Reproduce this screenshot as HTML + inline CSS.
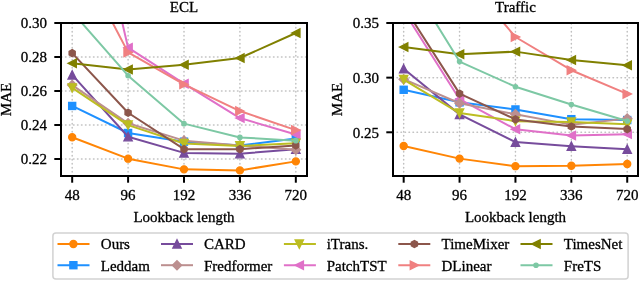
<!DOCTYPE html>
<html><head><meta charset="utf-8"><style>html,body{margin:0;padding:0;background:#fff;}body{width:640px;height:281px;overflow:hidden;}</style></head>
<body><svg width="640" height="281" viewBox="0 0 640 281" style="display:block;will-change:transform">
<rect width="640" height="281" fill="#fff"/>
<defs><clipPath id="clip0"><rect x="61.0" y="23.0" width="246.0" height="153.0"/></clipPath></defs>
<g stroke="#c0c0c0" stroke-width="1.5" stroke-dasharray="0.5 3.5" stroke-dashoffset="-0.5" stroke-linecap="round" fill="none"><line x1="72.18" y1="176.6" x2="72.18" y2="23.0"/><line x1="128.09" y1="176.6" x2="128.09" y2="23.0"/><line x1="184.00" y1="176.6" x2="184.00" y2="23.0"/><line x1="239.91" y1="176.6" x2="239.91" y2="23.0"/><line x1="295.82" y1="176.6" x2="295.82" y2="23.0"/><line x1="61.0" y1="159.00" x2="307.0" y2="159.00"/><line x1="61.0" y1="125.00" x2="307.0" y2="125.00"/><line x1="61.0" y1="91.00" x2="307.0" y2="91.00"/><line x1="61.0" y1="57.00" x2="307.0" y2="57.00"/><line x1="61.0" y1="23.00" x2="307.0" y2="23.00"/></g>
<g clip-path="url(#clip0)"><polyline points="72.18,137.24 128.09,158.66 184.00,169.37 239.91,170.39 295.82,161.38" fill="none" stroke="#ff8505" stroke-width="2.0" stroke-linejoin="round" stroke-linecap="butt"/><circle cx="72.18" cy="137.24" r="3.50" fill="#ff8505" stroke="#ff8505" stroke-width="1.4" stroke-linejoin="miter"/><circle cx="128.09" cy="158.66" r="3.50" fill="#ff8505" stroke="#ff8505" stroke-width="1.4" stroke-linejoin="miter"/><circle cx="184.00" cy="169.37" r="3.50" fill="#ff8505" stroke="#ff8505" stroke-width="1.4" stroke-linejoin="miter"/><circle cx="239.91" cy="170.39" r="3.50" fill="#ff8505" stroke="#ff8505" stroke-width="1.4" stroke-linejoin="miter"/><circle cx="295.82" cy="161.38" r="3.50" fill="#ff8505" stroke="#ff8505" stroke-width="1.4" stroke-linejoin="miter"/><polyline points="72.18,105.96 128.09,132.99 184.00,141.66 239.91,145.57 295.82,138.43" fill="none" stroke="#1e90ff" stroke-width="2.0" stroke-linejoin="round" stroke-linecap="butt"/><rect x="68.68" y="102.46" width="7.00" height="7.00" fill="#1e90ff" stroke="#1e90ff" stroke-width="1.4" stroke-linejoin="miter"/><rect x="124.59" y="129.49" width="7.00" height="7.00" fill="#1e90ff" stroke="#1e90ff" stroke-width="1.4" stroke-linejoin="miter"/><rect x="180.50" y="138.16" width="7.00" height="7.00" fill="#1e90ff" stroke="#1e90ff" stroke-width="1.4" stroke-linejoin="miter"/><rect x="236.41" y="142.07" width="7.00" height="7.00" fill="#1e90ff" stroke="#1e90ff" stroke-width="1.4" stroke-linejoin="miter"/><rect x="292.32" y="134.93" width="7.00" height="7.00" fill="#1e90ff" stroke="#1e90ff" stroke-width="1.4" stroke-linejoin="miter"/><polyline points="72.18,74.85 128.09,136.73 184.00,152.88 239.91,153.73 295.82,149.14" fill="none" stroke="#774c9c" stroke-width="2.0" stroke-linejoin="round" stroke-linecap="butt"/><path d="M72.18,70.75L76.28,78.95L68.08,78.95Z" fill="#774c9c" stroke="#774c9c" stroke-width="1.4" stroke-linejoin="miter"/><path d="M128.09,132.63L132.19,140.83L123.99,140.83Z" fill="#774c9c" stroke="#774c9c" stroke-width="1.4" stroke-linejoin="miter"/><path d="M184.00,148.78L188.10,156.98L179.90,156.98Z" fill="#774c9c" stroke="#774c9c" stroke-width="1.4" stroke-linejoin="miter"/><path d="M239.91,149.63L244.01,157.83L235.81,157.83Z" fill="#774c9c" stroke="#774c9c" stroke-width="1.4" stroke-linejoin="miter"/><path d="M295.82,145.04L299.92,153.24L291.72,153.24Z" fill="#774c9c" stroke="#774c9c" stroke-width="1.4" stroke-linejoin="miter"/><polyline points="72.18,-192.05 128.09,47.65 184.00,83.69 239.91,118.03 295.82,134.52" fill="none" stroke="#e070c8" stroke-width="2.0" stroke-linejoin="round" stroke-linecap="butt"/><path d="M68.08,-192.05L76.28,-196.15L76.28,-187.95Z" fill="#e070c8" stroke="#e070c8" stroke-width="1.4" stroke-linejoin="miter"/><path d="M123.99,47.65L132.19,43.55L132.19,51.75Z" fill="#e070c8" stroke="#e070c8" stroke-width="1.4" stroke-linejoin="miter"/><path d="M179.90,83.69L188.10,79.59L188.10,87.79Z" fill="#e070c8" stroke="#e070c8" stroke-width="1.4" stroke-linejoin="miter"/><path d="M235.81,118.03L244.01,113.93L244.01,122.13Z" fill="#e070c8" stroke="#e070c8" stroke-width="1.4" stroke-linejoin="miter"/><path d="M291.72,134.52L299.92,130.42L299.92,138.62Z" fill="#e070c8" stroke="#e070c8" stroke-width="1.4" stroke-linejoin="miter"/><polyline points="72.18,85.05 128.09,123.30 184.00,140.64 239.91,145.40 295.82,149.82" fill="none" stroke="#bc8f8f" stroke-width="2.0" stroke-linejoin="round" stroke-linecap="butt"/><path d="M72.18,80.50L76.74,85.05L72.18,89.60L67.63,85.05Z" fill="#bc8f8f" stroke="#bc8f8f" stroke-width="1.4" stroke-linejoin="miter"/><path d="M128.09,118.75L132.64,123.30L128.09,127.85L123.54,123.30Z" fill="#bc8f8f" stroke="#bc8f8f" stroke-width="1.4" stroke-linejoin="miter"/><path d="M184.00,136.09L188.55,140.64L184.00,145.19L179.45,140.64Z" fill="#bc8f8f" stroke="#bc8f8f" stroke-width="1.4" stroke-linejoin="miter"/><path d="M239.91,140.85L244.46,145.40L239.91,149.95L235.36,145.40Z" fill="#bc8f8f" stroke="#bc8f8f" stroke-width="1.4" stroke-linejoin="miter"/><path d="M295.82,145.27L300.37,149.82L295.82,154.37L291.26,149.82Z" fill="#bc8f8f" stroke="#bc8f8f" stroke-width="1.4" stroke-linejoin="miter"/><polyline points="72.18,87.94 128.09,125.17 184.00,143.53 239.91,145.91 295.82,143.36" fill="none" stroke="#bcbd22" stroke-width="2.0" stroke-linejoin="round" stroke-linecap="butt"/><path d="M72.18,92.04L76.28,83.84L68.08,83.84Z" fill="#bcbd22" stroke="#bcbd22" stroke-width="1.4" stroke-linejoin="miter"/><path d="M128.09,129.27L132.19,121.07L123.99,121.07Z" fill="#bcbd22" stroke="#bcbd22" stroke-width="1.4" stroke-linejoin="miter"/><path d="M184.00,147.63L188.10,139.43L179.90,139.43Z" fill="#bcbd22" stroke="#bcbd22" stroke-width="1.4" stroke-linejoin="miter"/><path d="M239.91,150.01L244.01,141.81L235.81,141.81Z" fill="#bcbd22" stroke="#bcbd22" stroke-width="1.4" stroke-linejoin="miter"/><path d="M295.82,147.46L299.92,139.26L291.72,139.26Z" fill="#bcbd22" stroke="#bcbd22" stroke-width="1.4" stroke-linejoin="miter"/><polyline points="72.18,53.09 128.09,112.76 184.00,149.14 239.91,149.14 295.82,145.40" fill="none" stroke="#8c564b" stroke-width="2.0" stroke-linejoin="round" stroke-linecap="butt"/><path d="M72.18,49.59L69.15,51.34L69.15,54.84L72.18,56.59L75.21,54.84L75.21,51.34Z" fill="#8c564b" stroke="#8c564b" stroke-width="1.4" stroke-linejoin="miter"/><path d="M128.09,109.26L125.06,111.01L125.06,114.51L128.09,116.26L131.12,114.51L131.12,111.01Z" fill="#8c564b" stroke="#8c564b" stroke-width="1.4" stroke-linejoin="miter"/><path d="M184.00,145.64L180.97,147.39L180.97,150.89L184.00,152.64L187.03,150.89L187.03,147.39Z" fill="#8c564b" stroke="#8c564b" stroke-width="1.4" stroke-linejoin="miter"/><path d="M239.91,145.64L236.88,147.39L236.88,150.89L239.91,152.64L242.94,150.89L242.94,147.39Z" fill="#8c564b" stroke="#8c564b" stroke-width="1.4" stroke-linejoin="miter"/><path d="M295.82,141.90L292.79,143.65L292.79,147.15L295.82,148.90L298.85,147.15L298.85,143.65Z" fill="#8c564b" stroke="#8c564b" stroke-width="1.4" stroke-linejoin="miter"/><polyline points="72.18,-54.52 128.09,52.41 184.00,84.37 239.91,111.06 295.82,130.10" fill="none" stroke="#f08080" stroke-width="2.0" stroke-linejoin="round" stroke-linecap="butt"/><path d="M76.28,-54.52L68.08,-58.62L68.08,-50.42Z" fill="#f08080" stroke="#f08080" stroke-width="1.4" stroke-linejoin="miter"/><path d="M132.19,52.41L123.99,48.31L123.99,56.51Z" fill="#f08080" stroke="#f08080" stroke-width="1.4" stroke-linejoin="miter"/><path d="M188.10,84.37L179.90,80.27L179.90,88.47Z" fill="#f08080" stroke="#f08080" stroke-width="1.4" stroke-linejoin="miter"/><path d="M244.01,111.06L235.81,106.96L235.81,115.16Z" fill="#f08080" stroke="#f08080" stroke-width="1.4" stroke-linejoin="miter"/><path d="M299.92,130.10L291.72,126.00L291.72,134.20Z" fill="#f08080" stroke="#f08080" stroke-width="1.4" stroke-linejoin="miter"/><polyline points="72.18,63.29 128.09,69.41 184.00,64.82 239.91,58.02 295.82,33.03" fill="none" stroke="#808000" stroke-width="2.0" stroke-linejoin="round" stroke-linecap="butt"/><path d="M68.08,63.29L76.28,59.19L76.28,67.39Z" fill="#808000" stroke="#808000" stroke-width="1.4" stroke-linejoin="miter"/><path d="M123.99,69.41L132.19,65.31L132.19,73.51Z" fill="#808000" stroke="#808000" stroke-width="1.4" stroke-linejoin="miter"/><path d="M179.90,64.82L188.10,60.72L188.10,68.92Z" fill="#808000" stroke="#808000" stroke-width="1.4" stroke-linejoin="miter"/><path d="M235.81,58.02L244.01,53.92L244.01,62.12Z" fill="#808000" stroke="#808000" stroke-width="1.4" stroke-linejoin="miter"/><path d="M291.72,33.03L299.92,28.93L299.92,37.13Z" fill="#808000" stroke="#808000" stroke-width="1.4" stroke-linejoin="miter"/><polyline points="72.18,11.95 128.09,75.70 184.00,123.64 239.91,137.41 295.82,140.64" fill="none" stroke="#7dc8a4" stroke-width="2.0" stroke-linejoin="round" stroke-linecap="butt"/><circle cx="72.18" cy="11.95" r="2.10" fill="#7dc8a4" stroke="#7dc8a4" stroke-width="1.4" stroke-linejoin="miter"/><circle cx="128.09" cy="75.70" r="2.10" fill="#7dc8a4" stroke="#7dc8a4" stroke-width="1.4" stroke-linejoin="miter"/><circle cx="184.00" cy="123.64" r="2.10" fill="#7dc8a4" stroke="#7dc8a4" stroke-width="1.4" stroke-linejoin="miter"/><circle cx="239.91" cy="137.41" r="2.10" fill="#7dc8a4" stroke="#7dc8a4" stroke-width="1.4" stroke-linejoin="miter"/><circle cx="295.82" cy="140.64" r="2.10" fill="#7dc8a4" stroke="#7dc8a4" stroke-width="1.4" stroke-linejoin="miter"/></g>
<rect x="61.0" y="23.0" width="246.00" height="153.0" fill="none" stroke="#000" stroke-width="2"/>
<g stroke="#000" stroke-width="2"><line x1="72.18" y1="176.0" x2="72.18" y2="182.7"/><line x1="128.09" y1="176.0" x2="128.09" y2="182.7"/><line x1="184.00" y1="176.0" x2="184.00" y2="182.7"/><line x1="239.91" y1="176.0" x2="239.91" y2="182.7"/><line x1="295.82" y1="176.0" x2="295.82" y2="182.7"/><line x1="61.0" y1="159.00" x2="54.3" y2="159.00"/><line x1="61.0" y1="125.00" x2="54.3" y2="125.00"/><line x1="61.0" y1="91.00" x2="54.3" y2="91.00"/><line x1="61.0" y1="57.00" x2="54.3" y2="57.00"/><line x1="61.0" y1="23.00" x2="54.3" y2="23.00"/></g>
<g font-family='"Liberation Serif", serif' font-size="15" fill="#000" stroke="#000" stroke-width="0.3"><text x="72.18" y="200.4" text-anchor="middle">48</text><text x="128.09" y="200.4" text-anchor="middle">96</text><text x="184.00" y="200.4" text-anchor="middle">192</text><text x="239.91" y="200.4" text-anchor="middle">336</text><text x="295.82" y="200.4" text-anchor="middle">720</text><text x="47.00" y="164.30" text-anchor="end">0.22</text><text x="47.00" y="130.30" text-anchor="end">0.24</text><text x="47.00" y="96.30" text-anchor="end">0.26</text><text x="47.00" y="62.30" text-anchor="end">0.28</text><text x="47.00" y="28.30" text-anchor="end">0.30</text><text x="184.00" y="11.7" text-anchor="middle">ECL</text><text x="184.00" y="221.8" text-anchor="middle">Lookback length</text><text transform="translate(11.0,99.50) rotate(-90)" text-anchor="middle">MAE</text></g>
<defs><clipPath id="clip1"><rect x="393.0" y="23.0" width="245.0" height="153.0"/></clipPath></defs>
<g stroke="#c0c0c0" stroke-width="1.5" stroke-dasharray="0.5 3.5" stroke-dashoffset="-0.5" stroke-linecap="round" fill="none"><line x1="403.68" y1="176.6" x2="403.68" y2="23.0"/><line x1="459.56" y1="176.6" x2="459.56" y2="23.0"/><line x1="515.45" y1="176.6" x2="515.45" y2="23.0"/><line x1="571.34" y1="176.6" x2="571.34" y2="23.0"/><line x1="627.22" y1="176.6" x2="627.22" y2="23.0"/><line x1="392.5" y1="132.29" x2="638.0" y2="132.29"/><line x1="392.5" y1="77.64" x2="638.0" y2="77.64"/><line x1="392.5" y1="23.00" x2="638.0" y2="23.00"/></g>
<g clip-path="url(#clip1)"><polyline points="403.68,145.95 459.56,158.62 515.45,166.16 571.34,165.73 627.22,163.98" fill="none" stroke="#ff8505" stroke-width="2.0" stroke-linejoin="round" stroke-linecap="butt"/><circle cx="403.68" cy="145.95" r="3.50" fill="#ff8505" stroke="#ff8505" stroke-width="1.4" stroke-linejoin="miter"/><circle cx="459.56" cy="158.62" r="3.50" fill="#ff8505" stroke="#ff8505" stroke-width="1.4" stroke-linejoin="miter"/><circle cx="515.45" cy="166.16" r="3.50" fill="#ff8505" stroke="#ff8505" stroke-width="1.4" stroke-linejoin="miter"/><circle cx="571.34" cy="165.73" r="3.50" fill="#ff8505" stroke="#ff8505" stroke-width="1.4" stroke-linejoin="miter"/><circle cx="627.22" cy="163.98" r="3.50" fill="#ff8505" stroke="#ff8505" stroke-width="1.4" stroke-linejoin="miter"/><polyline points="403.68,89.77 459.56,102.34 515.45,109.45 571.34,119.17 627.22,120.05" fill="none" stroke="#1e90ff" stroke-width="2.0" stroke-linejoin="round" stroke-linecap="butt"/><rect x="400.18" y="86.27" width="7.00" height="7.00" fill="#1e90ff" stroke="#1e90ff" stroke-width="1.4" stroke-linejoin="miter"/><rect x="456.06" y="98.84" width="7.00" height="7.00" fill="#1e90ff" stroke="#1e90ff" stroke-width="1.4" stroke-linejoin="miter"/><rect x="511.95" y="105.95" width="7.00" height="7.00" fill="#1e90ff" stroke="#1e90ff" stroke-width="1.4" stroke-linejoin="miter"/><rect x="567.84" y="115.67" width="7.00" height="7.00" fill="#1e90ff" stroke="#1e90ff" stroke-width="1.4" stroke-linejoin="miter"/><rect x="623.72" y="116.55" width="7.00" height="7.00" fill="#1e90ff" stroke="#1e90ff" stroke-width="1.4" stroke-linejoin="miter"/><polyline points="403.68,68.79 459.56,114.36 515.45,142.12 571.34,146.16 627.22,149.23" fill="none" stroke="#774c9c" stroke-width="2.0" stroke-linejoin="round" stroke-linecap="butt"/><path d="M403.68,64.69L407.78,72.89L399.58,72.89Z" fill="#774c9c" stroke="#774c9c" stroke-width="1.4" stroke-linejoin="miter"/><path d="M459.56,110.26L463.66,118.46L455.46,118.46Z" fill="#774c9c" stroke="#774c9c" stroke-width="1.4" stroke-linejoin="miter"/><path d="M515.45,138.02L519.55,146.22L511.35,146.22Z" fill="#774c9c" stroke="#774c9c" stroke-width="1.4" stroke-linejoin="miter"/><path d="M571.34,142.06L575.44,150.26L567.24,150.26Z" fill="#774c9c" stroke="#774c9c" stroke-width="1.4" stroke-linejoin="miter"/><path d="M627.22,145.13L631.32,153.33L623.12,153.33Z" fill="#774c9c" stroke="#774c9c" stroke-width="1.4" stroke-linejoin="miter"/><polyline points="403.68,10.98 459.56,99.17 515.45,129.23 571.34,135.56 627.22,134.14" fill="none" stroke="#e070c8" stroke-width="2.0" stroke-linejoin="round" stroke-linecap="butt"/><path d="M399.58,10.98L407.78,6.88L407.78,15.08Z" fill="#e070c8" stroke="#e070c8" stroke-width="1.4" stroke-linejoin="miter"/><path d="M455.46,99.17L463.66,95.07L463.66,103.27Z" fill="#e070c8" stroke="#e070c8" stroke-width="1.4" stroke-linejoin="miter"/><path d="M511.35,129.23L519.55,125.13L519.55,133.33Z" fill="#e070c8" stroke="#e070c8" stroke-width="1.4" stroke-linejoin="miter"/><path d="M567.24,135.56L575.44,131.46L575.44,139.66Z" fill="#e070c8" stroke="#e070c8" stroke-width="1.4" stroke-linejoin="miter"/><path d="M623.12,134.14L631.32,130.04L631.32,138.24Z" fill="#e070c8" stroke="#e070c8" stroke-width="1.4" stroke-linejoin="miter"/><polyline points="403.68,79.17 459.56,103.22 515.45,114.25 571.34,124.64 627.22,118.62" fill="none" stroke="#bc8f8f" stroke-width="2.0" stroke-linejoin="round" stroke-linecap="butt"/><path d="M403.68,74.62L408.23,79.17L403.68,83.73L399.12,79.17Z" fill="#bc8f8f" stroke="#bc8f8f" stroke-width="1.4" stroke-linejoin="miter"/><path d="M459.56,98.66L464.12,103.22L459.56,107.77L455.01,103.22Z" fill="#bc8f8f" stroke="#bc8f8f" stroke-width="1.4" stroke-linejoin="miter"/><path d="M515.45,109.70L520.00,114.25L515.45,118.81L510.90,114.25Z" fill="#bc8f8f" stroke="#bc8f8f" stroke-width="1.4" stroke-linejoin="miter"/><path d="M571.34,120.08L575.89,124.64L571.34,129.19L566.78,124.64Z" fill="#bc8f8f" stroke="#bc8f8f" stroke-width="1.4" stroke-linejoin="miter"/><path d="M627.22,114.07L631.78,118.62L627.22,123.18L622.67,118.62Z" fill="#bc8f8f" stroke="#bc8f8f" stroke-width="1.4" stroke-linejoin="miter"/><polyline points="403.68,79.61 459.56,113.05 515.45,121.14 571.34,122.12 627.22,124.31" fill="none" stroke="#bcbd22" stroke-width="2.0" stroke-linejoin="round" stroke-linecap="butt"/><path d="M403.68,83.71L407.78,75.51L399.58,75.51Z" fill="#bcbd22" stroke="#bcbd22" stroke-width="1.4" stroke-linejoin="miter"/><path d="M459.56,117.15L463.66,108.95L455.46,108.95Z" fill="#bcbd22" stroke="#bcbd22" stroke-width="1.4" stroke-linejoin="miter"/><path d="M515.45,125.24L519.55,117.04L511.35,117.04Z" fill="#bcbd22" stroke="#bcbd22" stroke-width="1.4" stroke-linejoin="miter"/><path d="M571.34,126.22L575.44,118.02L567.24,118.02Z" fill="#bcbd22" stroke="#bcbd22" stroke-width="1.4" stroke-linejoin="miter"/><path d="M627.22,128.41L631.32,120.21L623.12,120.21Z" fill="#bcbd22" stroke="#bcbd22" stroke-width="1.4" stroke-linejoin="miter"/><polyline points="403.68,6.28 459.56,93.60 515.45,119.39 571.34,126.49 627.22,129.12" fill="none" stroke="#8c564b" stroke-width="2.0" stroke-linejoin="round" stroke-linecap="butt"/><path d="M403.68,2.78L400.65,4.53L400.65,8.03L403.68,9.78L406.71,8.03L406.71,4.53Z" fill="#8c564b" stroke="#8c564b" stroke-width="1.4" stroke-linejoin="miter"/><path d="M459.56,90.10L456.53,91.85L456.53,95.35L459.56,97.10L462.59,95.35L462.59,91.85Z" fill="#8c564b" stroke="#8c564b" stroke-width="1.4" stroke-linejoin="miter"/><path d="M515.45,115.89L512.42,117.64L512.42,121.14L515.45,122.89L518.48,121.14L518.48,117.64Z" fill="#8c564b" stroke="#8c564b" stroke-width="1.4" stroke-linejoin="miter"/><path d="M571.34,122.99L568.31,124.74L568.31,128.24L571.34,129.99L574.37,128.24L574.37,124.74Z" fill="#8c564b" stroke="#8c564b" stroke-width="1.4" stroke-linejoin="miter"/><path d="M627.22,125.62L624.19,127.37L624.19,130.87L627.22,132.62L630.25,130.87L630.25,127.37Z" fill="#8c564b" stroke="#8c564b" stroke-width="1.4" stroke-linejoin="miter"/><polyline points="403.68,-86.29 459.56,-29.13 515.45,36.99 571.34,70.21 627.22,93.93" fill="none" stroke="#f08080" stroke-width="2.0" stroke-linejoin="round" stroke-linecap="butt"/><path d="M407.78,-86.29L399.58,-90.39L399.58,-82.19Z" fill="#f08080" stroke="#f08080" stroke-width="1.4" stroke-linejoin="miter"/><path d="M463.66,-29.13L455.46,-33.23L455.46,-25.03Z" fill="#f08080" stroke="#f08080" stroke-width="1.4" stroke-linejoin="miter"/><path d="M519.55,36.99L511.35,32.89L511.35,41.09Z" fill="#f08080" stroke="#f08080" stroke-width="1.4" stroke-linejoin="miter"/><path d="M575.44,70.21L567.24,66.11L567.24,74.31Z" fill="#f08080" stroke="#f08080" stroke-width="1.4" stroke-linejoin="miter"/><path d="M631.32,93.93L623.12,89.83L623.12,98.03Z" fill="#f08080" stroke="#f08080" stroke-width="1.4" stroke-linejoin="miter"/><polyline points="403.68,47.04 459.56,54.15 515.45,51.63 571.34,60.05 627.22,65.29" fill="none" stroke="#808000" stroke-width="2.0" stroke-linejoin="round" stroke-linecap="butt"/><path d="M399.58,47.04L407.78,42.94L407.78,51.14Z" fill="#808000" stroke="#808000" stroke-width="1.4" stroke-linejoin="miter"/><path d="M455.46,54.15L463.66,50.05L463.66,58.25Z" fill="#808000" stroke="#808000" stroke-width="1.4" stroke-linejoin="miter"/><path d="M511.35,51.63L519.55,47.53L519.55,55.73Z" fill="#808000" stroke="#808000" stroke-width="1.4" stroke-linejoin="miter"/><path d="M567.24,60.05L575.44,55.95L575.44,64.15Z" fill="#808000" stroke="#808000" stroke-width="1.4" stroke-linejoin="miter"/><path d="M623.12,65.29L631.32,61.19L631.32,69.39Z" fill="#808000" stroke="#808000" stroke-width="1.4" stroke-linejoin="miter"/><polyline points="403.68,-28.91 459.56,61.58 515.45,86.71 571.34,104.53 627.22,121.03" fill="none" stroke="#7dc8a4" stroke-width="2.0" stroke-linejoin="round" stroke-linecap="butt"/><circle cx="403.68" cy="-28.91" r="2.10" fill="#7dc8a4" stroke="#7dc8a4" stroke-width="1.4" stroke-linejoin="miter"/><circle cx="459.56" cy="61.58" r="2.10" fill="#7dc8a4" stroke="#7dc8a4" stroke-width="1.4" stroke-linejoin="miter"/><circle cx="515.45" cy="86.71" r="2.10" fill="#7dc8a4" stroke="#7dc8a4" stroke-width="1.4" stroke-linejoin="miter"/><circle cx="571.34" cy="104.53" r="2.10" fill="#7dc8a4" stroke="#7dc8a4" stroke-width="1.4" stroke-linejoin="miter"/><circle cx="627.22" cy="121.03" r="2.10" fill="#7dc8a4" stroke="#7dc8a4" stroke-width="1.4" stroke-linejoin="miter"/></g>
<rect x="393.0" y="23.0" width="245.00" height="153.0" fill="none" stroke="#000" stroke-width="2"/>
<g stroke="#000" stroke-width="2"><line x1="403.68" y1="176.0" x2="403.68" y2="182.7"/><line x1="459.56" y1="176.0" x2="459.56" y2="182.7"/><line x1="515.45" y1="176.0" x2="515.45" y2="182.7"/><line x1="571.34" y1="176.0" x2="571.34" y2="182.7"/><line x1="627.22" y1="176.0" x2="627.22" y2="182.7"/><line x1="393.0" y1="132.29" x2="386.3" y2="132.29"/><line x1="393.0" y1="77.64" x2="386.3" y2="77.64"/><line x1="393.0" y1="23.00" x2="386.3" y2="23.00"/></g>
<g font-family='"Liberation Serif", serif' font-size="15" fill="#000" stroke="#000" stroke-width="0.3"><text x="403.68" y="200.4" text-anchor="middle">48</text><text x="459.56" y="200.4" text-anchor="middle">96</text><text x="515.45" y="200.4" text-anchor="middle">192</text><text x="571.34" y="200.4" text-anchor="middle">336</text><text x="627.22" y="200.4" text-anchor="middle">720</text><text x="379.00" y="137.59" text-anchor="end">0.25</text><text x="379.00" y="82.94" text-anchor="end">0.30</text><text x="379.00" y="28.30" text-anchor="end">0.35</text><text x="515.50" y="11.7" text-anchor="middle">Traffic</text><text x="515.50" y="221.8" text-anchor="middle">Lookback length</text><text transform="translate(342.3,99.50) rotate(-90)" text-anchor="middle">MAE</text></g>
<rect x="52.9" y="232.9" width="575.2" height="46.2" rx="3" ry="3" fill="#fff" fill-opacity="0.8" stroke="#d2d2d2" stroke-width="1.5"/>
<line x1="57.5" y1="244.0" x2="89.5" y2="244.0" stroke="#ff8505" stroke-width="2.0"/><circle cx="73.40" cy="244.00" r="3.50" fill="#ff8505" stroke="#ff8505" stroke-width="1.4" stroke-linejoin="miter"/><text x="100.8" y="249.30" font-family='"Liberation Serif", serif' font-size="15" fill="#000" stroke="#000" stroke-width="0.3">Ours</text><line x1="57.5" y1="265.2" x2="89.5" y2="265.2" stroke="#1e90ff" stroke-width="2.0"/><rect x="69.90" y="261.70" width="7.00" height="7.00" fill="#1e90ff" stroke="#1e90ff" stroke-width="1.4" stroke-linejoin="miter"/><text x="100.8" y="270.50" font-family='"Liberation Serif", serif' font-size="15" fill="#000" stroke="#000" stroke-width="0.3">Leddam</text><line x1="161" y1="244.0" x2="193" y2="244.0" stroke="#774c9c" stroke-width="2.0"/><path d="M177.00,239.90L181.10,248.10L172.90,248.10Z" fill="#774c9c" stroke="#774c9c" stroke-width="1.4" stroke-linejoin="miter"/><text x="204" y="249.30" font-family='"Liberation Serif", serif' font-size="15" fill="#000" stroke="#000" stroke-width="0.3">CARD</text><line x1="161" y1="265.2" x2="193" y2="265.2" stroke="#bc8f8f" stroke-width="2.0"/><path d="M177.00,260.65L181.55,265.20L177.00,269.75L172.45,265.20Z" fill="#bc8f8f" stroke="#bc8f8f" stroke-width="1.4" stroke-linejoin="miter"/><text x="204" y="270.50" font-family='"Liberation Serif", serif' font-size="15" fill="#000" stroke="#000" stroke-width="0.3">Fredformer</text><line x1="283.9" y1="244.0" x2="315.9" y2="244.0" stroke="#bcbd22" stroke-width="2.0"/><path d="M299.30,248.10L303.40,239.90L295.20,239.90Z" fill="#bcbd22" stroke="#bcbd22" stroke-width="1.4" stroke-linejoin="miter"/><text x="326.7" y="249.30" font-family='"Liberation Serif", serif' font-size="15" fill="#000" stroke="#000" stroke-width="0.3">iTrans.</text><line x1="283.9" y1="265.2" x2="315.9" y2="265.2" stroke="#e070c8" stroke-width="2.0"/><path d="M295.20,265.20L303.40,261.10L303.40,269.30Z" fill="#e070c8" stroke="#e070c8" stroke-width="1.4" stroke-linejoin="miter"/><text x="326.7" y="270.50" font-family='"Liberation Serif", serif' font-size="15" fill="#000" stroke="#000" stroke-width="0.3">PatchTST</text><line x1="398.3" y1="244.0" x2="430.3" y2="244.0" stroke="#8c564b" stroke-width="2.0"/><path d="M414.40,240.50L411.37,242.25L411.37,245.75L414.40,247.50L417.43,245.75L417.43,242.25Z" fill="#8c564b" stroke="#8c564b" stroke-width="1.4" stroke-linejoin="miter"/><text x="441.5" y="249.30" font-family='"Liberation Serif", serif' font-size="15" fill="#000" stroke="#000" stroke-width="0.3">TimeMixer</text><line x1="398.3" y1="265.2" x2="430.3" y2="265.2" stroke="#f08080" stroke-width="2.0"/><path d="M418.50,265.20L410.30,261.10L410.30,269.30Z" fill="#f08080" stroke="#f08080" stroke-width="1.4" stroke-linejoin="miter"/><text x="441.5" y="270.50" font-family='"Liberation Serif", serif' font-size="15" fill="#000" stroke="#000" stroke-width="0.3">DLinear</text><line x1="520.5" y1="244.0" x2="552.5" y2="244.0" stroke="#808000" stroke-width="2.0"/><path d="M531.90,244.00L540.10,239.90L540.10,248.10Z" fill="#808000" stroke="#808000" stroke-width="1.4" stroke-linejoin="miter"/><text x="563.8" y="249.30" font-family='"Liberation Serif", serif' font-size="15" fill="#000" stroke="#000" stroke-width="0.3">TimesNet</text><line x1="520.5" y1="265.2" x2="552.5" y2="265.2" stroke="#7dc8a4" stroke-width="2.0"/><circle cx="536.00" cy="265.20" r="2.10" fill="#7dc8a4" stroke="#7dc8a4" stroke-width="1.4" stroke-linejoin="miter"/><text x="563.8" y="270.50" font-family='"Liberation Serif", serif' font-size="15" fill="#000" stroke="#000" stroke-width="0.3">FreTS</text>
</svg></body></html>
